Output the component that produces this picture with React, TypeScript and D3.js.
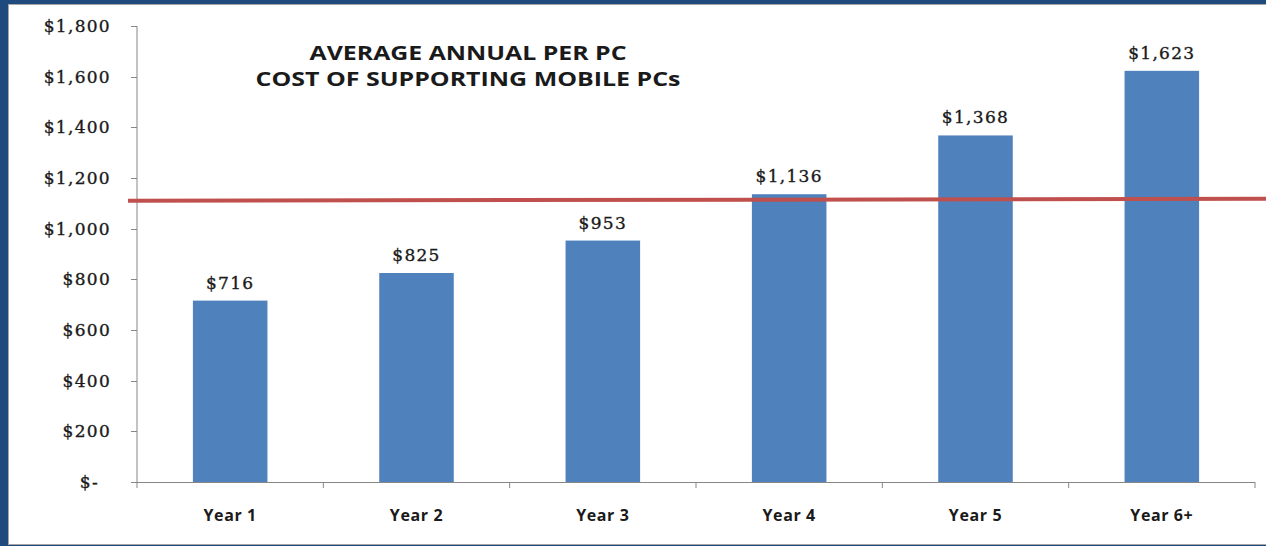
import * as d3 from "d3";
import { useEffect, useRef } from "react";

const categories = ["Year 1", "Year 2", "Year 3", "Year 4", "Year 5", "Year 6+"];
const costs = [716, 825, 953, 1136, 1368, 1623];
const yTicks = [0, 200, 400, 600, 800, 1000, 1200, 1400, 1600, 1800];
// red reference line, value at its left end and at its right end
const refLine = [1110, 1118];
const titleLines = ["AVERAGE ANNUAL PER PC", "COST OF SUPPORTING MOBILE PCs"];

const W = 1266;
const H = 546;

function App() {
  const ref = useRef(null);

  useEffect(() => {
    const svg = d3.select(ref.current);
    svg.selectAll("*").remove();

    const left = 137;
    const right = 1255;
    const top = 26;
    const bottom = 482;

    // frame
    svg.append("rect").attr("width", W).attr("height", H).attr("fill", "#1f4a7e");
    svg
      .append("rect")
      .attr("x", 8.5)
      .attr("y", 4.5)
      .attr("width", W)
      .attr("height", H - 6)
      .attr("fill", "#fff")
      .attr("stroke", "#a6a6a6");

    const x = d3
      .scaleBand()
      .domain(categories)
      .range([left, right])
      .paddingInner(0.6)
      .paddingOuter(0.3);
    const y = d3.scaleLinear().domain([0, 1800]).range([bottom, top]);

    const serif = "'DejaVu Serif', serif";
    const sans = "'Open Sans', Lato, sans-serif";

    const serifText = (sel: any) =>
      sel
        .attr("font-family", serif)
        .attr("font-size", 17)
        .attr("letter-spacing", 1.3)
        .attr("fill", "#1a1a1a")
        .attr("stroke", "#1a1a1a")
        .attr("stroke-width", 0.35);

    // bars
    svg
      .append("g")
      .selectAll("rect")
      .data(costs)
      .join("rect")
      .attr("x", (_, i) => x(categories[i])!)
      .attr("y", (d) => y(d))
      .attr("width", x.bandwidth())
      .attr("height", (d) => y(0) - y(d))
      .attr("fill", "#4f81bd");

    // value labels
    svg
      .append("g")
      .selectAll("text")
      .data(costs)
      .join("text")
      .attr("x", (_, i) => x(categories[i])! + x.bandwidth() / 2)
      .attr("y", (d) => y(d) - 12)
      .attr("text-anchor", "middle")
      .call(serifText)
      .text((d) => d3.format("$,")(d));

    // y axis
    const axisColor = "#868686";
    const gy = svg.append("g");
    gy.append("line")
      .attr("x1", left)
      .attr("x2", left)
      .attr("y1", top)
      .attr("y2", bottom)
      .attr("stroke", axisColor);
    gy.selectAll("line.tick")
      .data(yTicks)
      .join("line")
      .attr("class", "tick")
      .attr("x1", left - 6)
      .attr("x2", left)
      .attr("y1", (d) => Math.round(y(d)) + 0.5)
      .attr("y2", (d) => Math.round(y(d)) + 0.5)
      .attr("stroke", axisColor);
    gy.selectAll("text")
      .data(yTicks)
      .join("text")
      .attr("x", (d) => (d === 0 ? 99 : 111))
      .attr("y", (d) => y(d) + 6)
      .attr("text-anchor", "end")
      .call(serifText)
      .text((d) => (d === 0 ? "$-" : d3.format("$,")(d)));

    // x axis
    const gx = svg.append("g");
    gx.append("line")
      .attr("x1", left)
      .attr("x2", right)
      .attr("y1", bottom + 0.5)
      .attr("y2", bottom + 0.5)
      .attr("stroke", axisColor);
    const step = x.step();
    gx.selectAll("line.tick")
      .data(d3.range(categories.length + 1))
      .join("line")
      .attr("class", "tick")
      .attr("x1", (i) => left + i * step)
      .attr("x2", (i) => left + i * step)
      .attr("y1", bottom)
      .attr("y2", bottom + 6)
      .attr("stroke", axisColor);
    gx.selectAll("text")
      .data(categories)
      .join("text")
      .attr("x", (d) => x(d)! + x.bandwidth() / 2)
      .attr("y", bottom + 39)
      .attr("text-anchor", "middle")
      .attr("font-family", sans)
      .attr("font-size", 16)
      .attr("font-weight", "bold")
      .attr("letter-spacing", 0.6)
      .attr("fill", "#1a1a1a")
      .text((d) => d);

    // reference line
    svg
      .append("line")
      .attr("x1", 128)
      .attr("x2", W)
      .attr("y1", y(refLine[0]))
      .attr("y2", y(refLine[1]))
      .attr("stroke", "#c0504d")
      .attr("stroke-width", 4);

    // title
    const titleWidths = [317, 425];
    svg
      .append("g")
      .selectAll("text")
      .data(titleLines)
      .join("text")
      .attr("x", 468)
      .attr("y", (_, i) => 60 + i * 26)
      .attr("text-anchor", "middle")
      .attr("font-family", sans)
      .attr("font-size", 20)
      .attr("font-weight", "bold")
      .attr("textLength", (_, i) => titleWidths[i])
      .attr("lengthAdjust", "spacingAndGlyphs")
      .attr("fill", "#1a1a1a")
      .text((d) => d);
  }, []);

  return (
    <svg
      ref={ref}
      width={W}
      height={H}
      style={{ position: "absolute", left: 0, top: 0 }}
    />
  );
}

export default App;
